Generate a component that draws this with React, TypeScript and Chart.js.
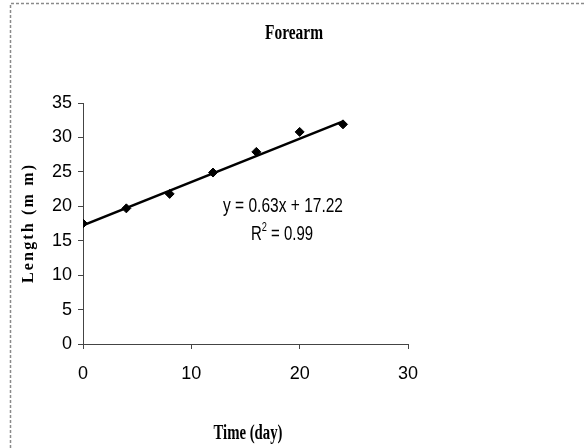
import React, { useEffect, useRef } from "react";
import { Chart, registerables } from "chart.js";

Chart.register(...registerables);

const days = [0, 4, 8, 12, 16, 20, 24];
const lengths = [17.5, 19.7, 21.8, 24.9, 27.9, 30.8, 31.9];
const trendX = [0, 24];
const trendY = [17.22, 32.34];
const titleText = "Forearm";
const xTitle = "Time (day)";
const yTitle = "Length (m m)";
const eqText = "y = 0.63x + 17.22";
const r2Value = "0.99";

function scaledText(ctx: CanvasRenderingContext2D, text: string, cx: number, base: number, font: string, targetW: number) {
  ctx.save();
  ctx.font = font;
  const w = ctx.measureText(text).width;
  ctx.translate(cx, base);
  ctx.scale(targetW / w, 1);
  ctx.textAlign = "center";
  ctx.textBaseline = "alphabetic";
  ctx.fillText(text, 0, 0);
  ctx.restore();
}

const decorPlugin = {
  id: "decor",
  afterDraw(chart: any) {
    const ctx: CanvasRenderingContext2D = chart.ctx;
    ctx.save();
    // border
    ctx.strokeStyle = "#8a8a8a";
    ctx.lineWidth = 1.5;
    ctx.setLineDash([3, 2]);
    ctx.beginPath();
    ctx.moveTo(10.5, 448);
    ctx.lineTo(10.5, 3.5);
    ctx.lineTo(584, 3.5);
    ctx.stroke();
    ctx.setLineDash([]);
    ctx.fillStyle = "#000";
    // title
    scaledText(ctx, titleText, 294, 39, "bold 22px 'Liberation Serif'", 58);
    // x title
    scaledText(ctx, xTitle, 248, 439, "bold 20px 'Liberation Serif'", 69);
    // y title, letter-spaced, rotated
    ctx.save();
    ctx.translate(33, 224);
    ctx.rotate(-Math.PI / 2);
    ctx.font = "bold 16px 'Liberation Serif'";
    ctx.textBaseline = "alphabetic";
    ctx.textAlign = "left";
    const chars = yTitle.split("");
    const widths = chars.map((c) => ctx.measureText(c).width);
    const tot = widths.reduce((a, b) => a + b, 0);
    const target = 118;
    const sp = (target - tot) / (chars.length - 1);
    let x = -target / 2;
    chars.forEach((c, i) => {
      ctx.fillText(c, x, 0);
      x += widths[i] + sp;
    });
    ctx.restore();
    // equation
    scaledText(ctx, eqText, 283, 212, "21px 'Liberation Sans'", 120);
    // R^2
    ctx.save();
    const big = "21px 'Liberation Sans'";
    const small = "13px 'Liberation Sans'";
    const rest = " = " + r2Value;
    ctx.font = big;
    const wR = ctx.measureText("R").width;
    const wRest = ctx.measureText(rest).width;
    ctx.font = small;
    const w2 = ctx.measureText("2").width;
    const total = wR + w2 + wRest;
    ctx.translate(282, 240);
    ctx.scale(62 / total, 1);
    ctx.textAlign = "left";
    let px = -total / 2;
    ctx.font = big;
    ctx.fillText("R", px, 0);
    px += wR;
    ctx.font = small;
    ctx.fillText("2", px, -9);
    px += w2;
    ctx.font = big;
    ctx.fillText(rest, px, 0);
    ctx.restore();
    ctx.restore();
  },
};

export default function App() {
  const ref = useRef<HTMLCanvasElement>(null);
  useEffect(() => {
    if (!ref.current) return;
    const tickFont = { family: "'Liberation Sans', Arial, sans-serif", size: 18 };
    const chart = new Chart(ref.current, {
      type: "scatter",
      data: {
        datasets: [
          {
            label: "Trend",
            data: trendX.map((x, i) => ({ x, y: trendY[i] })),
            showLine: true,
            borderColor: "#000",
            borderWidth: 2.5,
            pointRadius: 0,
            fill: false,
          },
          {
            label: "Forearm",
            data: days.map((x, i) => ({ x, y: lengths[i] })),
            pointStyle: "rectRot",
            pointRadius: 4.5,
            backgroundColor: "#000",
            borderColor: "#000",
            borderWidth: 1,
          },
        ],
      },
      options: {
        animation: false,
        responsive: false,
        devicePixelRatio: 1,
        layout: { padding: { left: 43, right: 176, top: 103, bottom: 60 } },
        plugins: { legend: { display: false }, tooltip: { enabled: false }, title: { display: false } },
        scales: {
          x: {
            type: "linear",
            min: 0,
            max: 30,
            ticks: { stepSize: 10, color: "#000", font: tickFont, padding: 14 },
            grid: { drawOnChartArea: false, drawTicks: true, tickLength: 5, color: "#444" },
            border: { display: true, color: "#444", width: 1 },
            afterFit: (s: any) => { s.height = 44; },
          },
          y: {
            min: 0,
            max: 35,
            ticks: { stepSize: 5, color: "#000", font: tickFont, padding: 6 },
            grid: { drawOnChartArea: false, drawTicks: true, tickLength: 5, color: "#444" },
            border: { display: true, color: "#444", width: 1 },
            afterFit: (s: any) => { s.width = 40; },
          },
        },
      },
      plugins: [decorPlugin],
    } as any);
    return () => chart.destroy();
  }, []);
  return (
    <div style={{ position: "fixed", left: 0, top: 0, width: 584, height: 448, background: "#fff" }}>
      <canvas ref={ref} width={584} height={448} style={{ width: 584, height: 448, display: "block" }} />
    </div>
  );
}
